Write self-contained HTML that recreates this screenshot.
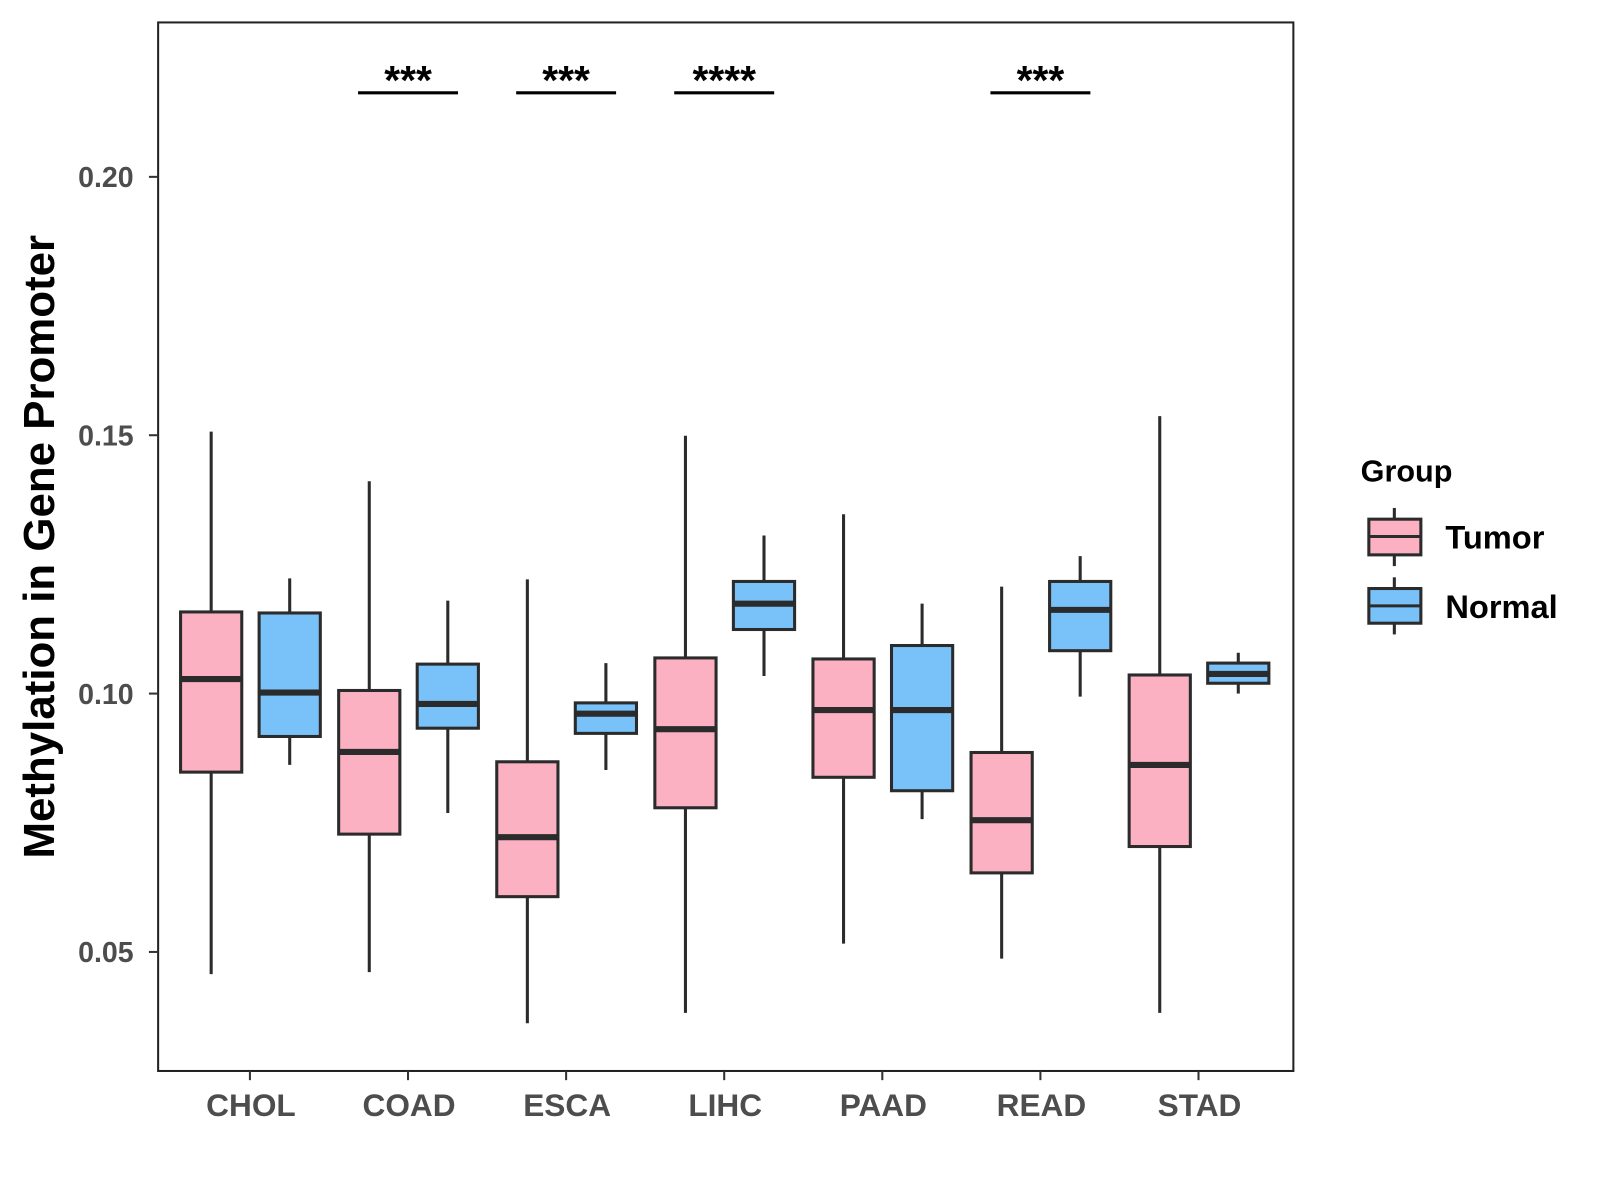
<!DOCTYPE html>
<html><head><meta charset="utf-8"><style>
html,body{margin:0;padding:0;background:#fff}
svg{display:block}
text{font-family:"Liberation Sans",Arial,sans-serif;font-weight:bold}
</style></head><body>
<svg id="chart" width="1600" height="1200" viewBox="0 0 1568.6 1176.5" xmlns="http://www.w3.org/2000/svg">
<rect x="155" y="22" width="1113" height="1028" fill="#fff" stroke="#222" stroke-width="2"/>
<g id="yaxis"></g><g id="xaxis"></g><g id="boxes"></g><g id="sig"></g>
<text transform="translate(53,536) rotate(-90)" text-anchor="middle" font-size="43" fill="#000">Methylation in Gene Promoter</text>
<g>
<text x="1334" y="472" font-size="30" fill="#000">Group</text>
<g>
<line x1="1367" y1="498" x2="1367" y2="555" stroke="#2b2b2b" stroke-width="3"/>
<rect x="1342" y="509" width="51" height="35" fill="#fbb1c2" stroke="#2b2b2b" stroke-width="3"/>
<line x1="1342" y1="526" x2="1393" y2="526" stroke="#2b2b2b" stroke-width="3"/>
<text x="1417" y="538" font-size="32" fill="#000">Tumor</text></g>
<g>
<line x1="1367" y1="566" x2="1367" y2="622" stroke="#2b2b2b" stroke-width="3"/>
<rect x="1342" y="577" width="51" height="34" fill="#79c2f9" stroke="#2b2b2b" stroke-width="3"/>
<line x1="1342" y1="594" x2="1393" y2="594" stroke="#2b2b2b" stroke-width="3"/>
<text x="1417" y="606" font-size="32" fill="#000">Normal</text></g>
</g>
</svg>
<script>
const categories=["CHOL","COAD","ESCA","LIHC","PAAD","READ","STAD"];
const tumorLow=[.0457,.0461,.0362,.0382,.0516,.0487,.0382];
const tumorQ1=[.0848,.0728,.0607,.0779,.0838,.0653,.0704];
const tumorMed=[.1028,.0887,.0722,.0931,.0968,.0755,.0862];
const tumorQ3=[.1158,.1006,.0868,.1069,.1067,.0886,.1036];
const tumorHigh=[.1507,.1411,.1221,.1499,.1347,.1207,.1537];
const normalLow=[.0862,.0769,.0852,.1034,.0757,.0994,.1000];
const normalQ1=[.0917,.0933,.0923,.1124,.0812,.1083,.1020];
const normalMed=[.1002,.0980,.0961,.1174,.0968,.1162,.1038];
const normalQ3=[.1156,.1057,.0982,.1217,.1093,.1217,.1059];
const normalHigh=[.1223,.1180,.1059,.1306,.1174,.1266,.1079];
const yTicks=[0.05,0.10,0.15,0.20];
const yTickLabels=["0.05","0.10","0.15","0.20"];
const sigLabels=["","***","***","****","","***",""];

const NS="http://www.w3.org/2000/svg";
const y=v=>680-(v-0.10)*5066;
const x=i=>245+i*155;
function mk(tag,attrs,parent,txt){const e=document.createElementNS(NS,tag);for(const k in attrs)e.setAttribute(k,attrs[k]);if(txt!==undefined)e.textContent=txt;parent.appendChild(e);return e;}
const ya=document.getElementById('yaxis'),xa=document.getElementById('xaxis'),bx=document.getElementById('boxes'),sg=document.getElementById('sig');
yTicks.forEach((t,i)=>{
  const l=mk('line',{x1:146,x2:155,y1:y(t),y2:y(t),stroke:'#333','stroke-width':2},ya);
  
  
  const tx=mk('text',{x:131,y:y(t)+10,'text-anchor':'end','font-size':28,fill:'#4d4d4d'},ya,yTickLabels[i]);
  
  
});
categories.forEach((c,i)=>{
  const l=mk('line',{x1:x(i),x2:x(i),y1:1050,y2:1059,stroke:'#333','stroke-width':2},xa);
  
  
  const tx=mk('text',{x:x(i)+1,y:1094,'text-anchor':'middle','font-size':31,fill:'#4d4d4d'},xa,c);
  
  
});
function box(cx,lo,q1,md,q3,hi,fill,name){
  const g=mk('g',{},bx);
  
  
  mk('line',{x1:cx,x2:cx,y1:y(hi),y2:y(lo),stroke:'#2b2b2b','stroke-width':3},g);
  mk('rect',{x:cx-30,y:y(q3),width:60,height:y(q1)-y(q3),fill:fill,stroke:'#2b2b2b','stroke-width':3},g);
  mk('line',{x1:cx-30,x2:cx+30,y1:y(md),y2:y(md),stroke:'#2b2b2b','stroke-width':6},g);
}
categories.forEach((c,i)=>{
  box(x(i)-38,tumorLow[i],tumorQ1[i],tumorMed[i],tumorQ3[i],tumorHigh[i],'#fbb1c2','box-tumor-'+c.toLowerCase());
  box(x(i)+39,normalLow[i],normalQ1[i],normalMed[i],normalQ3[i],normalHigh[i],'#79c2f9','box-normal-'+c.toLowerCase());
  if(sigLabels[i]){
    const g=mk('g',{},sg);
    
    
    mk('line',{x1:x(i)-49,x2:x(i)+49,y1:91,y2:91,stroke:'#000','stroke-width':3},g);
    mk('text',{x:x(i),y:92,'text-anchor':'middle','font-size':40,fill:'#000'},g,sigLabels[i]);
  }
});
</script>
</body></html>
